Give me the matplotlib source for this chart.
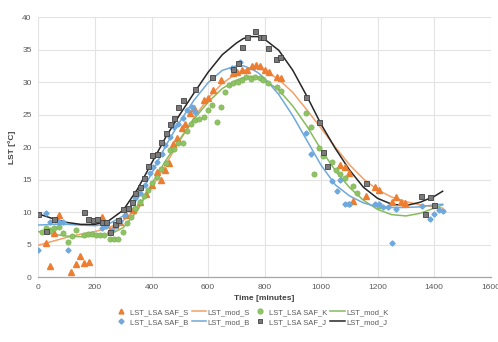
import matplotlib
matplotlib.use("Agg")
from matplotlib import pyplot as plt
from matplotlib.lines import Line2D
import numpy as np

plt.rcParams["font.family"] = ["Liberation Sans", "DejaVu Sans"]

# observed LST (LSA SAF) per station: time [min], value [degC]
s_t = [25, 41, 56, 72, 116, 132, 147, 162, 179, 224, 253, 270, 290, 310, 335, 360, 380, 400,
       418, 432, 448, 462, 477, 489, 507, 520, 536, 552, 584, 601, 619, 646, 690, 704, 720,
       737, 755, 770, 784, 802, 817, 843, 857, 1067, 1083, 1099, 1114, 1159, 1191, 1205,
       1250, 1265, 1282, 1297]
s_v = [5.3, 1.7, 6.8, 9.6, 0.7, 2.0, 3.3, 2.2, 2.3, 9.2, 7.2, 8.0, 8.4, 9.6, 10.3, 11.5, 12.8,
       14.2, 16.2, 15.0, 16.5, 17.5, 20.5, 21.4, 22.9, 23.5, 25.2, 26.0, 27.2, 27.6, 28.8,
       30.3, 31.4, 31.6, 31.8, 31.8, 32.4, 32.6, 32.4, 31.8, 31.6, 30.8, 30.7, 17.2, 16.9,
       16.0, 11.7, 12.5, 13.8, 13.4, 11.6, 12.3, 11.5, 11.4]

k_t = [11, 27, 41, 56, 73, 88, 103, 118, 133, 162, 176, 190, 204, 218, 232, 253, 267, 281,
       298, 312, 327, 342, 359, 373, 389, 401, 418, 434, 450, 465, 480, 495, 510, 524, 540,
       555, 569, 585, 600, 615, 631, 645, 660, 675, 690, 705, 720, 734, 752, 766, 782, 796,
       813, 843, 857, 947, 963, 976, 994, 1008, 1038, 1053, 1067, 1083, 1100, 1114, 1128, 1205]
k_v = [6.9, 7.5, 7.2, 7.5, 7.7, 6.7, 5.4, 6.3, 7.3, 6.4, 6.6, 6.6, 6.5, 6.5, 6.5, 5.8, 5.8,
       5.8, 7.0, 8.3, 9.3, 10.6, 11.6, 12.5, 13.4, 14.4, 15.4, 16.7, 17.5, 19.6, 19.7, 20.6,
       20.7, 22.4, 23.5, 24.2, 24.3, 24.7, 25.7, 26.5, 23.9, 26.1, 28.4, 29.5, 29.8, 30.0,
       30.3, 30.8, 30.5, 30.8, 30.6, 30.3, 29.9, 29.2, 28.7, 25.2, 23.1, 15.9, 19.8, 18.7,
       17.7, 16.4, 15.8, 15.3, 11.2, 14.0, 12.9, 11.0]

b_t = [0, 25, 41, 58, 74, 88, 103, 224, 240, 259, 275, 290, 306, 322, 342, 359, 377, 395,
       405, 418, 436, 448, 465, 480, 495, 510, 524, 542, 554, 684, 713, 947, 963, 1038, 1055,
       1067, 1085, 1099, 1191, 1205, 1220, 1235, 1250, 1265, 1356, 1386, 1401, 1417, 1431]
b_v = [4.2, 9.8, 8.4, 8.8, 8.5, 8.4, 4.1, 7.6, 7.8, 7.2, 7.8, 8.6, 9.5, 10.5, 12.1, 12.9,
       14.2, 16.0, 17.0, 17.7, 19.0, 20.3, 21.6, 23.1, 23.6, 24.4, 25.7, 26.2, 25.4, 32.1,
       33.1, 22.1, 19.0, 14.7, 13.2, 15.0, 11.2, 11.2, 11.2, 11.3, 10.8, 10.7, 5.2, 10.4,
       11.0, 8.9, 9.7, 10.3, 10.2]

j_t = [0, 27, 56, 162, 176, 194, 208, 224, 239, 253, 271, 283, 300, 318, 330, 342, 359, 373,
       389, 403, 418, 434, 450, 465, 480, 495, 510, 554, 614, 690, 705, 720, 737, 766, 782,
       796, 811, 841, 855, 947, 993, 1008, 1022, 1159, 1354, 1368, 1386, 1400]
j_v = [9.7, 7.1, 8.9, 10.0, 8.9, 8.8, 8.9, 8.4, 8.5, 6.9, 8.2, 8.8, 10.4, 10.6, 11.5, 12.9,
       13.9, 15.2, 17.1, 18.8, 18.9, 20.8, 22.1, 23.5, 24.4, 26.2, 27.2, 29.0, 30.8, 32.0,
       33.0, 35.4, 36.9, 37.8, 37.0, 36.9, 35.3, 33.6, 33.8, 27.7, 23.9, 19.2, 17.1, 14.4,
       12.4, 9.7, 12.3, 11.1]

# modelled LST
mod_t = [0, 50, 100, 150, 200, 250, 300, 350, 400, 450, 500, 550, 600, 650, 700, 725, 750,
         775, 800, 850, 900, 950, 1000, 1050, 1100, 1150, 1200, 1250, 1300, 1350, 1400, 1430]
mod_s = [4.9, 5.5, 6.1, 6.6, 7.0, 7.6, 8.7, 10.7, 13.7, 17.3, 21.0, 24.5, 27.5, 29.8, 31.3,
         31.8, 32.1, 32.1, 31.8, 30.4, 28.4, 25.7, 22.9, 20.0, 17.3, 15.1, 13.4, 12.3, 11.6,
         11.1, 10.8, 10.6]
mod_k = [7.0, 6.6, 6.3, 6.2, 6.3, 6.5, 7.6, 10.2, 14.3, 17.9, 21.2, 24.3, 26.9, 29.0, 30.3,
         30.7, 30.9, 30.8, 30.3, 28.8, 26.3, 23.2, 19.6, 16.4, 13.8, 11.8, 10.4, 9.6, 9.4,
         9.8, 10.6, 11.1]
mod_b = [8.0, 8.1, 8.1, 8.0, 7.9, 8.2, 9.4, 12.0, 15.9, 20.2, 23.9, 27.2, 29.9, 31.8, 32.5,
         32.5, 32.1, 31.5, 30.6, 28.1, 24.8, 21.0, 17.2, 14.2, 12.5, 11.4, 10.8, 10.7, 10.7,
         10.8, 11.1, 11.2]
mod_j = [9.7, 9.0, 8.4, 8.1, 8.1, 8.7, 10.3, 13.5, 17.5, 21.5, 25.0, 28.3, 31.5, 34.2, 36.0,
         36.7, 37.0, 37.0, 36.6, 34.9, 31.8, 27.8, 23.5, 19.8, 16.5, 13.8, 12.1, 11.2, 11.0,
         11.5, 12.4, 13.2]

c_s, c_s_line = "#ED7D31", "#F4A06A"
c_k, c_k_line = "#8DC363", "#86BC5C"
c_b, c_b_line = "#6FA8DC", "#6FA8DC"
c_j, c_j_line = "#7A7A7A", "#262626"
j_edge = "#404040"

fig = plt.figure(figsize=(4.98, 3.42), dpi=100)
ax = fig.add_axes([0.0773, 0.190, 0.908, 0.760])

ax.plot(mod_t, mod_s, color=c_s_line, lw=1.1, zorder=2)
ax.plot(mod_t, mod_k, color=c_k_line, lw=1.1, zorder=2)
ax.plot(mod_t, mod_b, color=c_b_line, lw=1.1, zorder=2)
ax.plot(mod_t, mod_j, color=c_j_line, lw=1.1, zorder=2)

ax.plot(s_t, s_v, ls="none", marker="^", ms=3.8, color=c_s, mec=c_s, zorder=3)
ax.plot(k_t, k_v, ls="none", marker="o", ms=3.8, color=c_k, mec="#7AAE52", mew=0.4, zorder=3)
ax.plot(b_t, b_v, ls="none", marker="D", ms=2.6, color=c_b, mec=c_b, zorder=3)
ax.plot(j_t, j_v, ls="none", marker="s", ms=3.6, color=c_j, mec=j_edge, mew=0.6, zorder=4)

ax.set_xlim(0, 1600)
ax.set_ylim(0, 40)
ax.set_xticks(np.arange(0, 1601, 200))
ax.set_yticks(np.arange(0, 41, 5))
ax.grid(True, color="#E3E3E3", lw=0.8)
ax.set_axisbelow(True)
for sp in ["top", "right", "left"]:
    ax.spines[sp].set_visible(False)
ax.spines["bottom"].set_color("#A6A6A6")
ax.spines["bottom"].set_linewidth(0.9)
ax.tick_params(length=0, labelsize=6, labelcolor="#595959", pad=5)
ax.set_xlabel("Time [minutes]", fontsize=6, fontweight="bold", color="#404040", labelpad=3)
ax.set_ylabel("LST [°C]", fontsize=6, fontweight="bold", color="#404040", labelpad=4)

# legend is filled column by column: (S pts, B pts), (mod S, mod B), (K pts, J pts), (mod K, mod J)
handles = [
    Line2D([], [], ls="none", marker="^", ms=3.5, color=c_s),
    Line2D([], [], ls="none", marker="D", ms=2.6, color=c_b),
    Line2D([], [], color=c_s_line, lw=1.1),
    Line2D([], [], color=c_b_line, lw=1.1),
    Line2D([], [], ls="none", marker="o", ms=3.5, color=c_k),
    Line2D([], [], ls="none", marker="s", ms=3.4, color=c_j, mec=j_edge, mew=0.6),
    Line2D([], [], color=c_k_line, lw=1.1),
    Line2D([], [], color=c_j_line, lw=1.1),
]
labels = ["LST_LSA SAF_S", "LST_LSA SAF_B", "LST_mod_S", "LST_mod_B",
          "LST_LSA SAF_K", "LST_LSA SAF_J", "LST_mod_K", "LST_mod_J"]
leg = fig.legend(handles, labels, ncol=4, loc="center", bbox_to_anchor=(0.505, 0.072),
                 frameon=False, fontsize=5.5, handlelength=1.9, handletextpad=0.2,
                 columnspacing=0.4, labelspacing=0.35, borderpad=0)
for t in leg.get_texts():
    t.set_color("#595959")

fig.savefig("out.png", dpi=100)
